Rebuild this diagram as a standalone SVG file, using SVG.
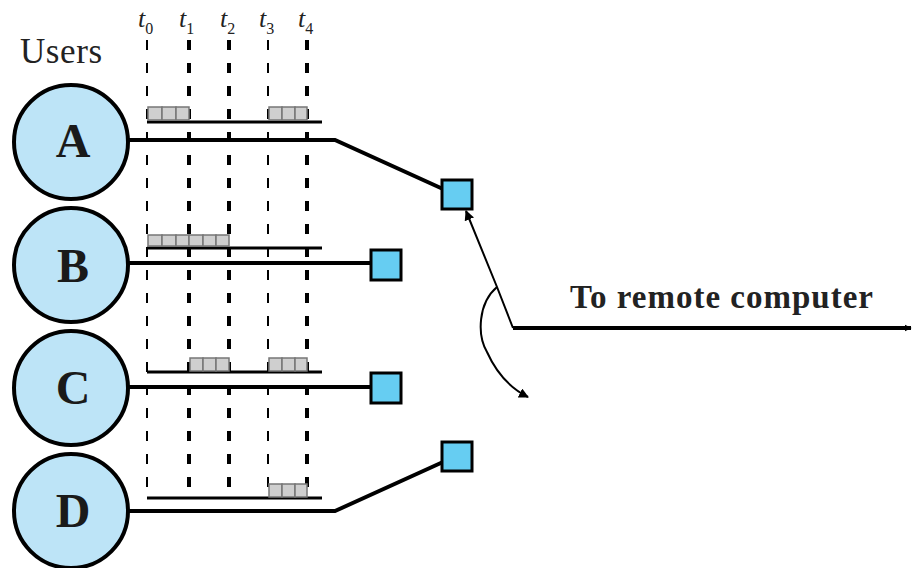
<svg xmlns="http://www.w3.org/2000/svg" width="913" height="568" viewBox="0 0 913 568">
<defs>
<style>
.user{fill:#bde4f7;stroke:#000;stroke-width:4}
.ulbl{font-family:"Liberation Serif",serif;font-weight:bold;font-size:48px;text-anchor:middle;fill:#1a1a1a}
.box{fill:#66cdf2;stroke:#000;stroke-width:3}
.wire{fill:none;stroke:#000;stroke-width:4}
.base{stroke:#000;stroke-width:3}
.tick{stroke:#000;stroke-dasharray:10 13}
.cell{fill:#cfcfcf;stroke:#777;stroke-width:1.5}
.tl{font-family:"Liberation Serif",serif;font-style:italic;font-size:26px;fill:#222}
.sub{font-style:normal;font-size:16px}
.title{font-family:"Liberation Serif",serif;font-size:35px;fill:#222}
.remote{font-family:"Liberation Serif",serif;font-weight:bold;font-size:33px;fill:#222}
</style>
<marker id="ah" viewBox="0 0 10 10" refX="9" refY="5" markerWidth="10" markerHeight="10" markerUnits="userSpaceOnUse" orient="auto">
<path d="M0,0 L10,5 L0,10 z" fill="#000"/>
</marker>
<marker id="ah2" viewBox="0 0 10 10" refX="9" refY="5" markerWidth="7" markerHeight="9" markerUnits="userSpaceOnUse" orient="auto">
<path d="M0,0 L10,5 L0,10 z" fill="#000"/>
</marker>
</defs>
<rect width="913" height="568" fill="#fff"/>

<text class="title" x="20" y="63" textLength="82">Users</text>

<g id="time-labels">
<text class="tl" x="138" y="27">t<tspan class="sub" dy="7">0</tspan></text>
<text class="tl" x="179" y="27">t<tspan class="sub" dy="7">1</tspan></text>
<text class="tl" x="220" y="27">t<tspan class="sub" dy="7">2</tspan></text>
<text class="tl" x="259" y="27">t<tspan class="sub" dy="7">3</tspan></text>
<text class="tl" x="298" y="27">t<tspan class="sub" dy="7">4</tspan></text>
</g>

<g id="time-ticks">
<line class="tick" x1="147" y1="40" x2="147" y2="500" stroke-width="2"/>
<line class="tick" x1="189" y1="40" x2="189" y2="500" stroke-width="4"/>
<line class="tick" x1="229" y1="40" x2="229" y2="500" stroke-width="4"/>
<line class="tick" x1="268" y1="40" x2="268" y2="500" stroke-width="2"/>
<line class="tick" x1="307" y1="40" x2="307" y2="500" stroke-width="4"/>
</g>

<g id="timelines">
<line class="base" x1="147" y1="122" x2="322" y2="122"/>
<line class="base" x1="147" y1="248" x2="322" y2="248"/>
<line class="base" x1="147" y1="372" x2="322" y2="372"/>
<line class="base" x1="147" y1="498" x2="322" y2="498"/>
</g>

<g id="data-blocks">
<rect class="cell" x="148" y="107" width="14" height="13"/><rect class="cell" x="162" y="107" width="14" height="13"/><rect class="cell" x="176" y="107" width="13" height="13"/>
<rect class="cell" x="269" y="107" width="13" height="13"/><rect class="cell" x="282" y="107" width="13" height="13"/><rect class="cell" x="295" y="107" width="12" height="13"/>
<rect class="cell" x="148" y="235" width="14" height="11"/><rect class="cell" x="162" y="235" width="14" height="11"/><rect class="cell" x="176" y="235" width="13" height="11"/><rect class="cell" x="189" y="235" width="14" height="11"/><rect class="cell" x="203" y="235" width="13" height="11"/><rect class="cell" x="216" y="235" width="13" height="11"/>
<rect class="cell" x="190" y="358" width="13" height="13"/><rect class="cell" x="203" y="358" width="13" height="13"/><rect class="cell" x="216" y="358" width="13" height="13"/>
<rect class="cell" x="269" y="358" width="13" height="13"/><rect class="cell" x="282" y="358" width="13" height="13"/><rect class="cell" x="295" y="358" width="12" height="13"/>
<rect class="cell" x="269" y="484" width="13" height="13"/><rect class="cell" x="282" y="484" width="13" height="13"/><rect class="cell" x="295" y="484" width="12" height="13"/>
</g>

<g id="connectors">
<polyline class="wire" points="128,140 335,140 443,189"/>
<polyline class="wire" points="128,263 372,263"/>
<polyline class="wire" points="128,387 372,387"/>
<polyline class="wire" points="128,511 335,511 443,462"/>
<line x1="513" y1="328" x2="911" y2="328" stroke="#000" stroke-width="4" marker-end="url(#ah2)"/>
<polyline points="513,328 497,287 466,211" fill="none" stroke="#000" stroke-width="2" marker-end="url(#ah)"/>
<path d="M497,287 C478,303 477,335 487,352 C496,372 510,388 528,397" fill="none" stroke="#000" stroke-width="2" marker-end="url(#ah)"/>
</g>

<g id="user-A"><circle class="user" cx="71" cy="142" r="57"/><text class="ulbl" x="73" y="157">A</text></g>
<g id="user-B"><circle class="user" cx="71" cy="265" r="57"/><text class="ulbl" x="73" y="282">B</text></g>
<g id="user-C"><circle class="user" cx="71" cy="388" r="57"/><text class="ulbl" x="73" y="404">C</text></g>
<g id="user-D"><circle class="user" cx="71" cy="511" r="57"/><text class="ulbl" x="73" y="527">D</text></g>

<g id="term-A"><rect class="box" x="442" y="180" width="30" height="29"/></g>
<g id="term-B"><rect class="box" x="371" y="250" width="30" height="30"/></g>
<g id="term-C"><rect class="box" x="371" y="373" width="30" height="30"/></g>
<g id="term-D"><rect class="box" x="442" y="442" width="30" height="29"/></g>

<text class="remote" x="570" y="308" textLength="303">To remote computer</text>
</svg>
